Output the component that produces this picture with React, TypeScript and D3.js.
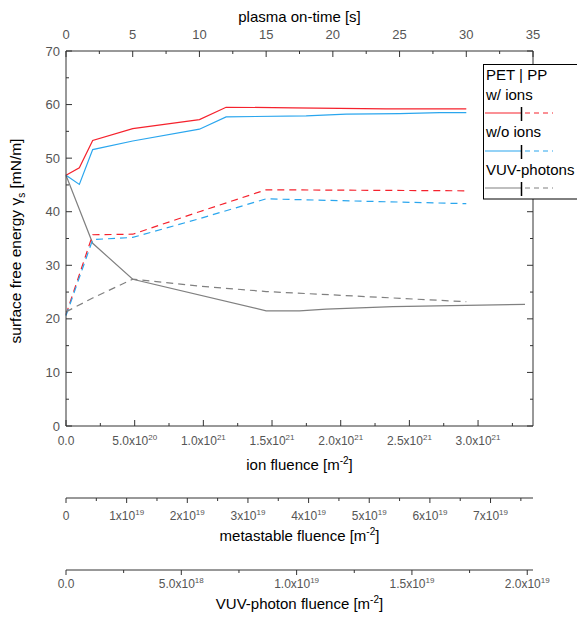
import React from "react";
import * as d3 from "d3";

// ---- data (plasma on-time [s] vs surface free energy [mN/m]) ----
const petIonsTime = [0, 1, 2, 5, 10, 12, 17, 24, 30];
const petIonsValue = [46.8, 48.2, 53.3, 55.5, 57.2, 59.5, 59.4, 59.2, 59.2];
const petNoIonsTime = [0, 1, 2, 5, 10, 12, 18, 21, 25, 28, 30];
const petNoIonsValue = [46.8, 45.1, 51.6, 53.2, 55.4, 57.7, 57.9, 58.2, 58.3, 58.5, 58.5];
const petVuvTime = [0, 2, 5, 15, 17.5, 19.5, 24.5, 34.4];
const petVuvValue = [46.8, 34.1, 27.4, 21.5, 21.5, 21.8, 22.3, 22.7];
const ppIonsTime = [0, 2, 5, 10, 15, 30];
const ppIonsValue = [20.8, 35.7, 35.8, 40.0, 44.1, 43.9];
const ppNoIonsTime = [0, 2, 5, 10, 15, 30];
const ppNoIonsValue = [20.6, 34.8, 35.2, 38.7, 42.4, 41.5];
const ppVuvTime = [0, 2, 5, 10, 15, 30];
const ppVuvValue = [21.3, 23.9, 27.4, 26.1, 25.1, 23.2];

// ---- ticks ----
const yTicks = [0, 10, 20, 30, 40, 50, 60, 70];
const yMinor = [5, 15, 25, 35, 45, 55, 65];
const timeTicks = [0, 5, 10, 15, 20, 25, 30, 35];
const timeMinor = [2.5, 7.5, 12.5, 17.5, 22.5, 27.5, 32.5];
const ionTicks = [0, 5e20, 1e21, 1.5e21, 2e21, 2.5e21, 3e21];
const ionLabels = [["0.0", ""], ["5.0x10", "20"], ["1.0x10", "21"], ["1.5x10", "21"], ["2.0x10", "21"], ["2.5x10", "21"], ["3.0x10", "21"]];
const metaTicks = [0, 1e19, 2e19, 3e19, 4e19, 5e19, 6e19, 7e19];
const metaLabels = [["0", ""], ["1x10", "19"], ["2x10", "19"], ["3x10", "19"], ["4x10", "19"], ["5x10", "19"], ["6x10", "19"], ["7x10", "19"]];
const vuvTicks = [0, 5e18, 1e19, 1.5e19, 2e19];
const vuvLabels = [["0.0", ""], ["5.0x10", "18"], ["1.0x10", "19"], ["1.5x10", "19"], ["2.0x10", "19"]];

const RED = "#f5222d";
const BLUE = "#2aa6ee";
const GRAY = "#808080";
const AX = "#333";
const TICKC = "#555";

const L = 66, R = 533, T = 51, B = 426;
const META_Y = 498, VUV_Y = 570;

export default function App() {
  const x = d3.scaleLinear().domain([0, 35]).range([L, R]);
  const y = d3.scaleLinear().domain([0, 70]).range([B, T]);
  const xIon = d3.scaleLinear().domain([0, 3.4e21]).range([L, R]);
  const xMeta = d3.scaleLinear().domain([0, 7.7e19]).range([L, R]);
  const xVuv = d3.scaleLinear().domain([0, 2.025e19]).range([L, R]);

  const line = d3.line<[number, number]>().x((d) => x(d[0])).y((d) => y(d[1]));
  const mk = (t: number[], v: number[]) => line(t.map((tt, i) => [tt, v[i]] as [number, number])) || "";

  const series = [
    { t: petIonsTime, v: petIonsValue, c: RED, dash: undefined },
    { t: petNoIonsTime, v: petNoIonsValue, c: BLUE, dash: undefined },
    { t: petVuvTime, v: petVuvValue, c: GRAY, dash: undefined },
    { t: ppIonsTime, v: ppIonsValue, c: RED, dash: "7,5" },
    { t: ppNoIonsTime, v: ppNoIonsValue, c: BLUE, dash: "7,5" },
    { t: ppVuvTime, v: ppVuvValue, c: GRAY, dash: "7,5" },
  ];

  const font = "Arial, 'Liberation Sans', sans-serif";
  const tickFs = 12;

  const label = (parts: string[], cx: number, cy: number, key: string | number) => (
    <text key={key} x={cx} y={cy} textAnchor="middle" fontSize={tickFs} fill={TICKC} fontFamily={font}>
      {parts[0]}
      {parts[1] ? <tspan fontSize={8} dy={-5}>{parts[1]}</tspan> : null}
    </text>
  );

  const legendRows = [
    { name: "w/ ions", c: RED, ty: 100, ly: 113 },
    { name: "w/o ions", c: BLUE, ty: 137, ly: 151 },
    { name: "VUV-photons", c: GRAY, ty: 175, ly: 188 },
  ];

  return (
    <svg width={577} height={622} style={{ position: "absolute", left: 0, top: 0, background: "#fff" }} fontFamily={font}>
      <rect x={0} y={0} width={577} height={622} fill="#fff" />
      {/* series */}
      {series.map((s, i) => (
        <path key={i} d={mk(s.t, s.v)} fill="none" stroke={s.c} strokeWidth={1.2} strokeDasharray={s.dash} />
      ))}

      {/* frame */}
      <line x1={L} x2={L} y1={T} y2={B} stroke={AX} />
      <line x1={R} x2={R} y1={T} y2={B} stroke={AX} />
      <line x1={L} x2={R} y1={B} y2={B} stroke={AX} />
      <line x1={L} x2={R} y1={T} y2={T} stroke={AX} />

      {/* left / right axis ticks */}
      {yTicks.map((v) => (
        <g key={"y" + v}>
          <line x1={L} x2={L + 6} y1={y(v)} y2={y(v)} stroke={AX} />
          <line x1={R} x2={R - 6} y1={y(v)} y2={y(v)} stroke={AX} />
          <text x={L - 6} y={y(v) + 4.5} textAnchor="end" fontSize={13} fill={TICKC}>{v}</text>
        </g>
      ))}
      {yMinor.map((v) => (
        <g key={"ym" + v}>
          <line x1={L} x2={L + 3} y1={y(v)} y2={y(v)} stroke={AX} />
          <line x1={R} x2={R - 3} y1={y(v)} y2={y(v)} stroke={AX} />
        </g>
      ))}

      {/* top time axis */}
      {timeTicks.map((v) => (
        <g key={"t" + v}>
          <line x1={x(v)} x2={x(v)} y1={T} y2={T + 6} stroke={AX} />
          <text x={x(v)} y={T - 12} textAnchor="middle" fontSize={13} fill={TICKC}>{v}</text>
        </g>
      ))}
      {timeMinor.map((v) => (
        <line key={"tm" + v} x1={x(v)} x2={x(v)} y1={T} y2={T + 3} stroke={AX} />
      ))}
      <text x={(L + R) / 2} y={22} textAnchor="middle" fontSize={15} fill="#000">plasma on-time [s]</text>

      {/* bottom ion axis */}
      {ionTicks.map((v, i) => (
        <g key={"i" + v}>
          <line x1={xIon(v)} x2={xIon(v)} y1={B} y2={B - 6} stroke={AX} />
          {label(ionLabels[i], xIon(v), B + 19, "il" + i)}
        </g>
      ))}
      {ionTicks.map((v) => (
        <line key={"im" + v} x1={xIon(v + 2.5e20)} x2={xIon(v + 2.5e20)} y1={B} y2={B - 3} stroke={AX} />
      ))}
      <text x={(L + R) / 2} y={470} textAnchor="middle" fontSize={15} fill="#000">
        ion fluence [m<tspan fontSize={10} dy={-6}>-2</tspan><tspan dy={6}>]</tspan>
      </text>

      {/* metastable axis */}
      <line x1={L} x2={R} y1={META_Y} y2={META_Y} stroke={AX} />
      {metaTicks.map((v, i) => (
        <g key={"m" + v}>
          <line x1={xMeta(v)} x2={xMeta(v)} y1={META_Y} y2={META_Y + 5} stroke={AX} />
          {label(metaLabels[i], xMeta(v), META_Y + 22, "ml" + i)}
        </g>
      ))}
      {metaTicks.map((v) => (
        <line key={"mm" + v} x1={xMeta(v + 5e18)} x2={xMeta(v + 5e18)} y1={META_Y} y2={META_Y + 3} stroke={AX} />
      ))}
      <text x={(L + R) / 2} y={541} textAnchor="middle" fontSize={15} fill="#000">
        metastable fluence [m<tspan fontSize={10} dy={-6}>-2</tspan><tspan dy={6}>]</tspan>
      </text>

      {/* VUV axis */}
      <line x1={L} x2={R} y1={VUV_Y} y2={VUV_Y} stroke={AX} />
      {vuvTicks.map((v, i) => (
        <g key={"v" + v}>
          <line x1={xVuv(v)} x2={xVuv(v)} y1={VUV_Y} y2={VUV_Y + 5} stroke={AX} />
          {label(vuvLabels[i], xVuv(v), VUV_Y + 18, "vl" + i)}
        </g>
      ))}
      {vuvTicks.map((v) => (
        <line key={"vm" + v} x1={xVuv(v + 2.5e18)} x2={xVuv(v + 2.5e18)} y1={VUV_Y} y2={VUV_Y + 3} stroke={AX} />
      ))}
      <text x={(L + R) / 2} y={609} textAnchor="middle" fontSize={15} fill="#000">
        VUV-photon fluence [m<tspan fontSize={10} dy={-6}>-2</tspan><tspan dy={6}>]</tspan>
      </text>

      {/* y title */}
      <text transform={`translate(21,241) rotate(-90)`} textAnchor="middle" fontSize={15.5} fill="#000">
        surface free energy γ<tspan fontSize={10} dy={4}>s</tspan><tspan dy={-4}> [mN/m]</tspan>
      </text>

      {/* legend */}
      <rect x={483.5} y={64.5} width={120} height={134.5} fill="#fff" stroke="#000" strokeWidth={1} />
      <text x={486} y={80} fontSize={15} fill="#000">PET  | PP</text>
      {legendRows.map((r) => (
        <g key={r.name}>
          <text x={486} y={r.ty} fontSize={15} fill="#000">{r.name}</text>
          <line x1={485} x2={521.5} y1={r.ly} y2={r.ly} stroke={r.c} strokeWidth={1.2} />
          <line x1={522} x2={553} y1={r.ly} y2={r.ly} stroke={r.c} strokeWidth={1.2} strokeDasharray="5,4" strokeDashoffset={-3} />
          <line x1={521.5} x2={521.5} y1={r.ly - 6} y2={r.ly + 8} stroke="#000" strokeWidth={1.5} />
        </g>
      ))}
    </svg>
  );
}
